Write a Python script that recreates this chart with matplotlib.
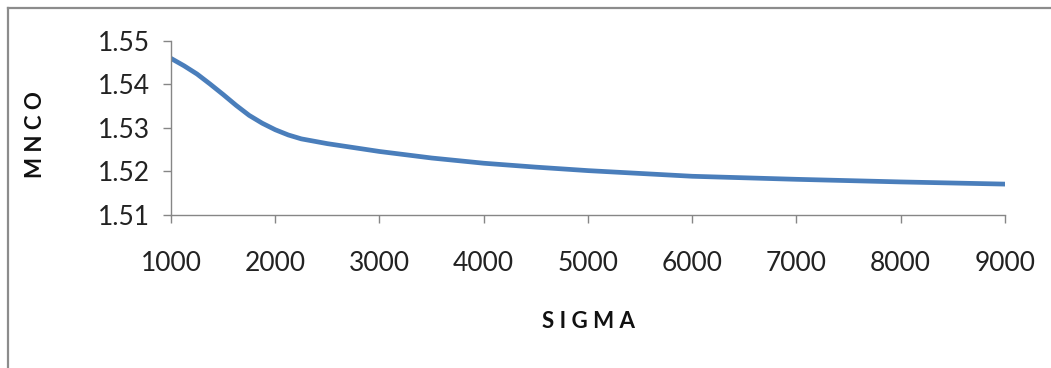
import matplotlib.pyplot as plt
from matplotlib.lines import Line2D

sigma = [1000, 1125, 1250, 1375, 1500, 1625, 1750, 1875, 2000, 2125, 2250, 2500, 2750,
         3000, 3500, 4000, 4500, 5000, 6000, 7000, 8000, 9000]
mnco = [1.5460, 1.5443, 1.5424, 1.5401, 1.5377, 1.5352, 1.5329, 1.5311, 1.5296, 1.5284,
        1.5275, 1.5264, 1.5255, 1.5246, 1.5231, 1.5219, 1.5210, 1.5202, 1.5189, 1.5182,
        1.5176, 1.5171]
xticks = [1000, 2000, 3000, 4000, 5000, 6000, 7000, 8000, 9000]
yticks = [1.51, 1.52, 1.53, 1.54, 1.55]

plt.rcParams['font.family'] = ['Lato', 'DejaVu Sans']

fig = plt.figure(figsize=(10.51, 3.68), dpi=100)
ax = fig.add_axes([0.1627, 0.4158, 0.7935, 0.4728])

ax.plot(sigma, mnco, color='#4a7ebb', linewidth=3.4, solid_capstyle='round',
        solid_joinstyle='round')

ax.set_xlim(1000, 9000)
ax.set_ylim(1.51, 1.55)
ax.set_xticks(xticks)
ax.set_yticks(yticks)
ax.set_yticklabels(['%.2f' % v for v in yticks])

for s in ['top', 'right']:
    ax.spines[s].set_visible(False)
for s in ['left', 'bottom']:
    ax.spines[s].set_color('#868686')
    ax.spines[s].set_linewidth(1.0)
ax.tick_params(axis='both', color='#868686', length=6, width=1.0,
               labelsize=19, labelcolor='#222222')
ax.tick_params(axis='x', pad=20)
ax.tick_params(axis='y', pad=9)

fig.text(0.560, 0.125, 'S I G M A', ha='center', va='center',
         fontsize=16, fontweight='bold', color='#111111')
fig.text(0.034, 0.633, 'M N C O', ha='center', va='center', rotation=90,
         fontsize=16, fontweight='bold', color='#111111')

# outer chart frame (left and top edges visible)
fig.add_artist(Line2D([0.008, 0.008], [0.0, 0.978], transform=fig.transFigure,
                      color='#8c8c8c', linewidth=1.6))
fig.add_artist(Line2D([0.008, 1.0], [0.978, 0.978], transform=fig.transFigure,
                      color='#8c8c8c', linewidth=1.6))

fig.savefig('out.png', dpi=100)
